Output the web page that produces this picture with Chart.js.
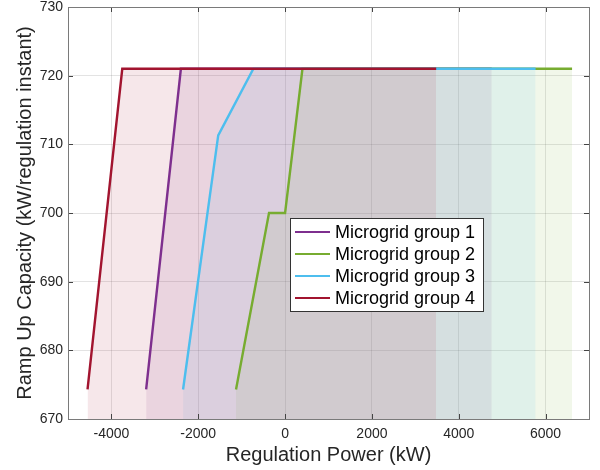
<!DOCTYPE html>
<html>
<head>
<meta charset="utf-8">
<script src="https://cdn.jsdelivr.net/npm/chart.js@4.4.0/dist/chart.umd.min.js"></script>
<style>
  html, body { margin: 0; padding: 0; background: #fff; }
  #wrap { width: 600px; height: 470px; position: relative; }
</style>
</head>
<body>
<div id="wrap"><canvas id="rampChart"></canvas></div>
<script>
// series
const groupNames = ["Microgrid group 1", "Microgrid group 2", "Microgrid group 3", "Microgrid group 4"];
const g1Power = [-3200, -2400, 4760];
const g1Ramp = [674.3, 721, 721];
const g2Power = [-1130, -370, 0, 400, 6610];
const g2Ramp = [674.3, 700, 700, 721, 721];
const g3Power = [-2350, -1540, -730, 5770];
const g3Ramp = [674.3, 711.3, 721, 721];
const g4Power = [-4550, -3750, 3480];
const g4Ramp = [674.3, 721, 721];
const xTicks = [-4000, -2000, 0, 2000, 4000, 6000];
const yTicks = [670, 680, 690, 700, 710, 720, 730];

const purple = "#7E2F8E";
const green = "#77AC30";
const blue = "#4DBEEE";
const red = "#A2142F";
const textColor = "#262626";
const fontFamily = "'Liberation Sans', Arial, Helvetica, sans-serif";

function toPoints(xs, ys) {
  return xs.map((x, i) => ({ x: x, y: ys[i] }));
}

function fade(hex, a) {
  const n = parseInt(hex.slice(1), 16);
  return "rgba(" + (n >> 16) + "," + ((n >> 8) & 255) + "," + (n & 255) + "," + a + ")";
}

function makeSet(label, xs, ys, color, order) {
  return {
    label: label,
    data: toPoints(xs, ys),
    borderColor: color,
    backgroundColor: fade(color, 0.1),
    borderWidth: 2.4,
    pointRadius: 0,
    tension: 0,
    fill: "start",
    order: order,
  };
}

// box round the plot, inward tick marks, legend inside the axes
const axesDecor = {
  id: "axesDecor",
  afterDatasetsDraw(chart) {
    const { ctx, chartArea: a, scales } = chart;
    ctx.save();
    ctx.strokeStyle = "#444";
    ctx.lineWidth = 1;
    ctx.beginPath();
    xTicks.forEach((v) => {
      const px = Math.round(scales.x.getPixelForValue(v)) + 0.5;
      ctx.moveTo(px, a.bottom); ctx.lineTo(px, a.bottom - 5);
      ctx.moveTo(px, a.top); ctx.lineTo(px, a.top + 5);
    });
    yTicks.forEach((v) => {
      const py = Math.round(scales.y.getPixelForValue(v)) + 0.5;
      ctx.moveTo(a.left, py); ctx.lineTo(a.left + 5, py);
      ctx.moveTo(a.right, py); ctx.lineTo(a.right - 5, py);
    });
    ctx.stroke();
    ctx.strokeStyle = "#7a7a7a";
    ctx.strokeRect(Math.round(a.left) + 0.5, Math.round(a.top) + 0.5,
      Math.round(a.right - a.left), Math.round(a.bottom - a.top));

    // legend
    const lx = 290, ly = 218, lw = 193, lh = 93;
    ctx.fillStyle = "#fff";
    ctx.fillRect(lx, ly, lw, lh);
    ctx.strokeStyle = "#333";
    ctx.strokeRect(lx + 0.5, ly + 0.5, lw, lh);
    ctx.font = "18px " + fontFamily;
    ctx.textBaseline = "middle";
    ctx.textAlign = "left";
    chart.data.datasets.forEach((ds, i) => {
      const ry = ly + 14 + i * 22;
      ctx.strokeStyle = ds.borderColor;
      ctx.lineWidth = 2.2;
      ctx.beginPath();
      ctx.moveTo(lx + 5, ry);
      ctx.lineTo(lx + 40, ry);
      ctx.stroke();
      ctx.fillStyle = "#000";
      ctx.fillText(ds.label, lx + 45, ry + 1);
    });
    ctx.restore();
  },
};

const rampChart = document.getElementById("rampChart");
new Chart(rampChart, {
  type: "line",
  data: {
    datasets: [
      makeSet(groupNames[0], g1Power, g1Ramp, purple, 3),
      makeSet(groupNames[1], g2Power, g2Ramp, green, 2),
      makeSet(groupNames[2], g3Power, g3Ramp, blue, 1),
      makeSet(groupNames[3], g4Power, g4Ramp, red, 0),
    ],
  },
  options: {
    responsive: true,
    maintainAspectRatio: false,
    animation: false,
    layout: { padding: { top: 7, right: 11, left: 0, bottom: 0 } },
    plugins: {
      legend: { display: false },
      tooltip: { enabled: false },
      filler: { drawTime: "beforeDatasetsDraw" },
    },
    scales: {
      x: {
        type: "linear",
        min: -5000,
        max: 7000,
        afterBuildTicks: (s) => { s.ticks = xTicks.map((v) => ({ value: v })); },
        afterFit: (s) => { s.height = 51; s.paddingLeft = 0; s.paddingRight = 0; },
        grid: { color: "rgba(0,0,0,0.11)", drawTicks: false },
        border: { display: false },
        ticks: {
          padding: 7,
          color: textColor,
          font: { family: fontFamily, size: 14 },
          callback: (v) => String(v),
        },
        title: {
          display: true,
          text: "Regulation Power (kW)",
          color: textColor,
          font: { family: fontFamily, size: 20 },
          padding: { top: 0, bottom: 3 },
        },
      },
      y: {
        type: "linear",
        min: 670,
        max: 730,
        afterBuildTicks: (s) => { s.ticks = yTicks.map((v) => ({ value: v })); },
        afterFit: (s) => { s.width = 68; s.paddingTop = 0; s.paddingBottom = 0; },
        grid: { color: "rgba(0,0,0,0.11)", drawTicks: false },
        border: { display: false },
        ticks: {
          padding: 5,
          color: textColor,
          font: { family: fontFamily, size: 14 },
        },
        title: {
          display: true,
          text: "Ramp Up Capacity (kW/regulation instant)",
          color: textColor,
          font: { family: fontFamily, size: 20 },
          padding: { top: 13, bottom: 0 },
        },
      },
    },
  },
  plugins: [axesDecor],
});
</script>
</body>
</html>
